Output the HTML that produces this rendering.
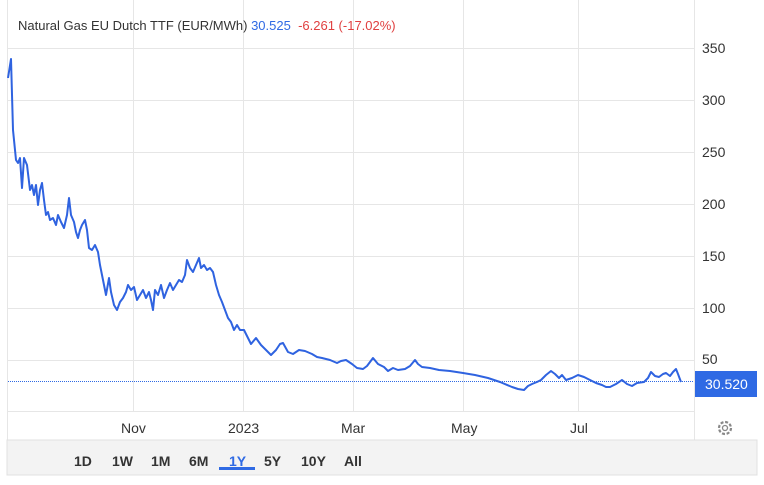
<!DOCTYPE html><html><head><style>
body{margin:0;background:#fff;width:764px;height:485px;overflow:hidden;font-family:"Liberation Sans",sans-serif}
.t{position:absolute;font-size:13px;color:#333}
</style></head><body>
<svg width="764" height="485" style="position:absolute;left:0;top:0">
<g stroke="#e6e6e6" stroke-width="1">
<line x1="7" y1="48.5" x2="694" y2="48.5"/><line x1="7" y1="100.5" x2="694" y2="100.5"/><line x1="7" y1="152.5" x2="694" y2="152.5"/><line x1="7" y1="204.5" x2="694" y2="204.5"/><line x1="7" y1="256.5" x2="694" y2="256.5"/><line x1="7" y1="308.5" x2="694" y2="308.5"/><line x1="7" y1="360.5" x2="694" y2="360.5"/><line x1="7" y1="411.5" x2="694" y2="411.5"/>
<line x1="133.5" y1="0" x2="133.5" y2="411"/><line x1="243.5" y1="0" x2="243.5" y2="411"/><line x1="353.5" y1="0" x2="353.5" y2="411"/><line x1="463.5" y1="0" x2="463.5" y2="411"/><line x1="578.5" y1="0" x2="578.5" y2="411"/>
<line x1="694.5" y1="0" x2="694.5" y2="440"/><line x1="7.5" y1="0" x2="7.5" y2="475"/>
</g>
<line x1="8" y1="381.5" x2="694" y2="381.5" stroke="#2f6ae4" stroke-width="1" stroke-dasharray="1,1"/>
<polyline fill="none" stroke="#2f63e0" stroke-width="2" stroke-linejoin="round" points="8,78 11,59 13,130 16,160 18,163 20,158 22,188 24,158 27,165 30,190 32,185 34,195 36,185 38,205 40,190 42,183 44,200 46,215 48,212 50,220 53,218 56,225 58,215 61,222 64,228 67,215 69,198 71,215 74,222 76,232 78,238 80,230 82,225 85,220 87,230 89,248 92,250 95,245 98,252 100,265 103,280 106,295 109,278 111,292 114,305 117,310 120,302 123,298 126,292 128,285 131,290 134,287 137,300 140,295 143,290 146,298 149,292 151,300 153,310 155,290 158,295 161,285 164,298 167,290 170,283 173,290 176,285 179,280 182,282 185,275 187,260 190,268 193,272 196,265 199,258 201,268 204,265 207,270 210,268 213,272 216,285 219,295 222,302 225,310 228,318 231,322 234,330 237,325 240,330 244,330 251,344 256,338 261,345 266,350 271,355 276,350 280,344 283,343 288,352 293,354 299,350 305,351 312,354 317,357 322,358 330,360 337,363 341,361 346,360 352,364 357,368 363,369 367,366 373,358 378,364 384,367 388,371 393,368 398,370 405,369 410,366 415,360 418,364 422,367 430,368 439,370 450,371 463,373 475,375 488,378 500,382 512,387 518,389 524,390 528,386 532,384 537,382 541,380 546,375 551,371 555,374 559,378 562,375 566,380 572,378 578,375 584,377 590,380 596,383 602,385 606,387 610,387 616,384 622,380 627,384 632,386 637,383 644,382 648,378 651,372 655,376 659,377 663,374 666,373 670,376 673,372 676,369 678,374 681,382"/>
<rect x="695" y="371" width="62" height="26" fill="#2f6ae4"/>
<rect x="7" y="440" width="750" height="35" fill="#f3f3f3" stroke="#e0e0e0"/>
<rect x="219" y="467" width="36" height="3" fill="#2f6ae4"/>
<g fill="none" stroke="#888" stroke-width="1.3"><circle cx="725" cy="428" r="2.5"/><circle cx="725" cy="428" r="6" stroke-dasharray="3,1.7" stroke-width="2.2"/></g>
</svg>
<div class="t" style="left:18px;top:18px">Natural Gas EU Dutch TTF (EUR/MWh) <span style="color:#2f6ae4">30.525</span> &nbsp;<span style="color:#e04040">-6.261 (-17.02%)</span></div>
<div class="t" style="left:702px;top:40px;font-size:14px">350</div>
<div class="t" style="left:702px;top:92px;font-size:14px">300</div>
<div class="t" style="left:702px;top:144px;font-size:14px">250</div>
<div class="t" style="left:702px;top:196px;font-size:14px">200</div>
<div class="t" style="left:702px;top:248px;font-size:14px">150</div>
<div class="t" style="left:702px;top:300px;font-size:14px">100</div>
<div class="t" style="left:702px;top:351px;font-size:14px">50</div>
<div class="t" style="left:705px;top:376px;font-size:14px;color:#fff">30.520</div>
<div class="t" style="left:121px;top:420px;font-size:14px">Nov</div>
<div class="t" style="left:228px;top:420px;font-size:14px">2023</div>
<div class="t" style="left:341px;top:420px;font-size:14px">Mar</div>
<div class="t" style="left:451px;top:420px;font-size:14px">May</div>
<div class="t" style="left:570px;top:420px;font-size:14px">Jul</div>
<div class="t" style="left:74px;top:453px;font-size:14px;font-weight:bold;color:#333;word-spacing:0">
<span style="position:absolute;left:0">1D</span><span style="position:absolute;left:38px">1W</span><span style="position:absolute;left:77px">1M</span><span style="position:absolute;left:115px">6M</span><span style="position:absolute;left:155px;color:#2f6ae4">1Y</span><span style="position:absolute;left:190px">5Y</span><span style="position:absolute;left:227px">10Y</span><span style="position:absolute;left:270px">All</span></div>
</body></html>
